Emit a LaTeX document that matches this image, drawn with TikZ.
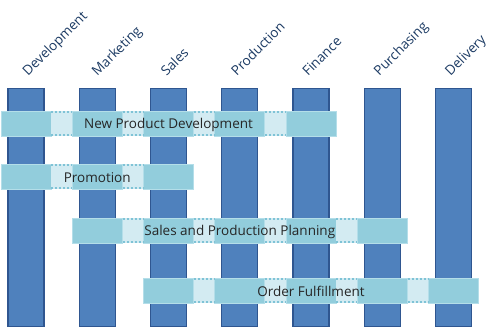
\documentclass[tikz,border=0pt]{standalone}
\usepackage{fontspec}
\setmainfont{Open Sans}
\usepackage{tikz}
\usetikzlibrary{positioning, calc}
\definecolor{deptblue}{HTML}{4F81BD}
\definecolor{deptedge}{HTML}{2F5690}
\definecolor{procfill}{HTML}{92CDDC}
\definecolor{procedge}{HTML}{B4DEE9}
\definecolor{linkfill}{HTML}{D3EBF2}
\definecolor{dotblue}{HTML}{7FC3D6}
\definecolor{headnavy}{HTML}{1B3A63}
\tikzstyle{dept} = [rectangle, minimum width=36pt, minimum height=238pt, draw=deptedge, line width=1.3pt, fill=deptblue]
\tikzstyle{head} = [rotate=45, anchor=base west, inner sep=0pt, text=headnavy, font=\fontsize{13.5}{15}\selectfont]
\tikzstyle{stage} = [rectangle, minimum width=50pt, minimum height=25pt, inner sep=0pt, draw=procedge, line width=0.6pt, fill=procfill]
\tikzstyle{link} = [fill=linkfill]
\tikzstyle{dots} = [draw=dotblue, line width=1.8pt, dash pattern=on 2pt off 2pt]
\tikzstyle{proc} = [inner sep=0pt, text=black!85, font=\fontsize{13.5}{15}\selectfont]
% light strip with dotted rims between two stage boxes
\newcommand{\joinstages}[2]{%
  \fill[link] (#1.north east) rectangle (#2.south west);
  \draw[dots] ([yshift=-1pt]#1.north east) -- ([yshift=-1pt]#2.north west);
  \draw[dots] ([yshift=1pt]#1.south east) -- ([yshift=1pt]#2.south west);}

\begin{document}
\begin{tikzpicture}[x=1pt, y=-1pt, node distance=71.25pt]
\useasboundingbox (0,0) rectangle (500,328);

\node (dev) [dept] at (26,207.5) {};
\node (mkt) [dept, right of=dev] {};
\node (sal) [dept, right of=mkt] {};
\node (prd) [dept, right of=sal] {};
\node (fin) [dept, right of=prd] {};
\node (pur) [dept, right of=fin] {};
\node (del) [dept, right of=pur] {};

\node (devhead) [head] at ([xshift=2pt, yshift=11pt]dev.north) {Development};
\node (mkthead) [head] at ([xshift=0pt, yshift=11pt]mkt.north) {Marketing};
\node (salhead) [head] at ([xshift=-2pt, yshift=11pt]sal.north) {Sales};
\node (prdhead) [head] at ([xshift=-3pt, yshift=11pt]prd.north) {Production};
\node (finhead) [head] at ([xshift=-3pt, yshift=11pt]fin.north) {Finance};
\node (purhead) [head] at ([xshift=-3pt, yshift=11pt]pur.north) {Purchasing};
\node (delhead) [head] at ([xshift=-3pt, yshift=11pt]del.north) {Delivery};

\coordinate (r1) at (0,123.5);
\coordinate (r2) at (0,176.5);
\coordinate (r3) at (0,230.5);
\coordinate (r4) at (0,290.5);

% New Product Development
\node (npd1) [stage] at (dev |- r1) {};
\node (npd2) [stage] at (mkt |- r1) {};
\node (npd3) [stage] at (sal |- r1) {};
\node (npd4) [stage] at (prd |- r1) {};
\node (npd5) [stage] at (fin |- r1) {};
\joinstages{npd1}{npd2}
\joinstages{npd2}{npd3}
\joinstages{npd3}{npd4}
\joinstages{npd4}{npd5}

% Promotion
\node (pro1) [stage] at (dev |- r2) {};
\node (pro2) [stage] at (mkt |- r2) {};
\node (pro3) [stage] at (sal |- r2) {};
\joinstages{pro1}{pro2}
\joinstages{pro2}{pro3}

% Sales and Production Planning
\node (spp1) [stage] at (mkt |- r3) {};
\node (spp2) [stage] at (sal |- r3) {};
\node (spp3) [stage] at (prd |- r3) {};
\node (spp4) [stage] at (fin |- r3) {};
\node (spp5) [stage] at (pur |- r3) {};
\joinstages{spp1}{spp2}
\joinstages{spp2}{spp3}
\joinstages{spp3}{spp4}
\joinstages{spp4}{spp5}

% Order Fulfillment
\node (ord1) [stage] at (sal |- r4) {};
\node (ord2) [stage] at (prd |- r4) {};
\node (ord3) [stage] at (fin |- r4) {};
\node (ord4) [stage] at (pur |- r4) {};
\node (ord5) [stage] at (del |- r4) {};
\joinstages{ord1}{ord2}
\joinstages{ord2}{ord3}
\joinstages{ord3}{ord4}
\joinstages{ord4}{ord5}

\node (npdtext) [proc, yshift=-1pt] at ($(npd1)!0.5!(npd5)$) {New Product Development};
\node (protext) [proc, yshift=-1pt] at ($(pro1)!0.5!(pro3)$) {Promotion};
\node (spptext) [proc, yshift=-1pt] at ($(spp1)!0.5!(spp5)$) {Sales and Production Planning};
\node (ordtext) [proc, yshift=-1pt] at ($(ord1)!0.5!(ord5)$) {Order Fulfillment};
\end{tikzpicture}
\end{document}
